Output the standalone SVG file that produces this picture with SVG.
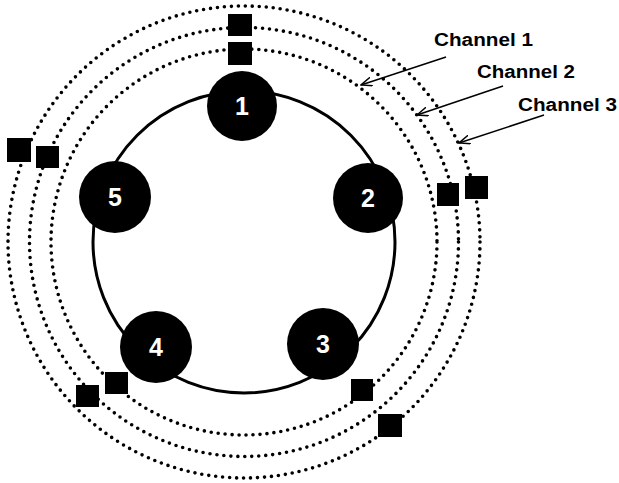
<svg xmlns="http://www.w3.org/2000/svg" width="619" height="483" viewBox="0 0 619 483">
<defs>
<style>
.dot{fill:none;stroke:#000;stroke-width:3.6;stroke-linecap:round;stroke-dasharray:0 7}
.ring{fill:none;stroke:#000;stroke-width:3}
.node{fill:#000}
.num{fill:#fff;font-family:"Liberation Sans",Arial,sans-serif;font-weight:bold;font-size:25px;text-anchor:middle}
.lbl{fill:#000;font-family:"Liberation Sans",Arial,sans-serif;font-weight:bold;font-size:18px}
.sq{fill:#000}
.arr{stroke:#000;stroke-width:1.5;fill:none;marker-end:url(#ah)}
</style>
<marker id="ah" viewBox="0 0 12 10" refX="11" refY="5" markerWidth="12" markerHeight="10" markerUnits="userSpaceOnUse" orient="auto">
<path d="M0,0.5 L11,5 L0,9.5" fill="none" stroke="#000" stroke-width="1.5"/>
</marker>
</defs>
<rect width="619" height="483" fill="#fff"/>
<g id="channels">
<circle class="dot" cx="244" cy="242" r="193"/>
<circle class="dot" cx="244" cy="242" r="214.5"/>
<circle class="dot" cx="244" cy="242" r="236"/>
</g>
<g id="connectors">
<circle class="ring" cx="244" cy="242" r="151"/>
<line class="arr" x1="446" y1="57" x2="361" y2="85"/>
<line class="arr" x1="503" y1="86" x2="417" y2="115"/>
<line class="arr" x1="544" y1="115" x2="459" y2="143"/>
</g>
<g id="node1"><circle class="node" cx="242" cy="106" r="35"/><text class="num" x="242" y="115">1</text></g>
<g id="node2"><circle class="node" cx="368" cy="198" r="35"/><text class="num" x="368" y="207">2</text></g>
<g id="node3"><circle class="node" cx="323" cy="344" r="36"/><text class="num" x="323" y="353">3</text></g>
<g id="node4"><circle class="node" cx="156" cy="347" r="36"/><text class="num" x="156" y="356">4</text></g>
<g id="node5"><circle class="node" cx="115" cy="197" r="36"/><text class="num" x="115" y="206">5</text></g>
<g id="packets">
<rect class="sq" x="228" y="14" width="24" height="22"/>
<rect class="sq" x="228" y="42" width="24" height="23"/>
<rect class="sq" x="7" y="138" width="24" height="24"/>
<rect class="sq" x="36" y="146" width="23" height="22"/>
<rect class="sq" x="437" y="183" width="22" height="23"/>
<rect class="sq" x="465" y="176" width="23" height="23"/>
<rect class="sq" x="105" y="372" width="23" height="22"/>
<rect class="sq" x="76" y="385" width="23" height="22"/>
<rect class="sq" x="351" y="379" width="22" height="22"/>
<rect class="sq" x="378" y="414" width="24" height="23"/>
</g>
<g id="labels">
<text class="lbl" x="434" y="46" textLength="99" lengthAdjust="spacingAndGlyphs">Channel 1</text>
<text class="lbl" x="477" y="78" textLength="98" lengthAdjust="spacingAndGlyphs">Channel 2</text>
<text class="lbl" x="518" y="111" textLength="99" lengthAdjust="spacingAndGlyphs">Channel 3</text>
</g>
</svg>
